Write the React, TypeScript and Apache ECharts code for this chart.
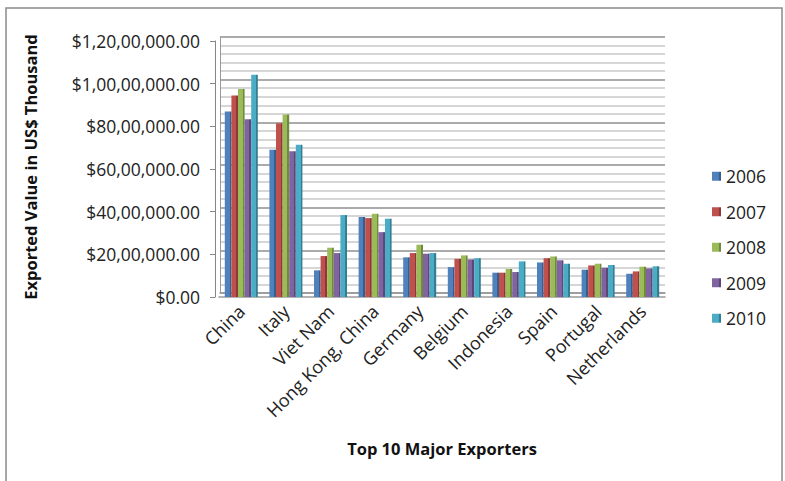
import React, { useEffect, useRef } from "react";
import * as echarts from "echarts";

const categories = ["China", "Italy", "Viet Nam", "Hong Kong, China", "Germany", "Belgium", "Indonesia", "Spain", "Portugal", "Netherlands"];
const years = ["2006", "2007", "2008", "2009", "2010"];
const v2006 = [8700000, 6900000, 1250000, 3750000, 1860000, 1400000, 1140000, 1620000, 1280000, 1090000];
const v2007 = [9450000, 8150000, 1920000, 3700000, 2060000, 1790000, 1140000, 1820000, 1480000, 1200000];
const v2008 = [9750000, 8560000, 2310000, 3900000, 2450000, 1950000, 1310000, 1900000, 1560000, 1420000];
const v2009 = [8330000, 6830000, 2060000, 3040000, 2030000, 1760000, 1170000, 1720000, 1370000, 1340000];
const v2010 = [10420000, 7140000, 3840000, 3670000, 2060000, 1820000, 1670000, 1560000, 1500000, 1440000];
const seriesValues = [v2006, v2007, v2008, v2009, v2010];
const colors = ["#4F81BD", "#C0504D", "#9BBB59", "#8064A2", "#4BACC6"];
const sideColors = ["#385D8A", "#8C3836", "#71893F", "#5C4776", "#357D91"];

const FONT = "'Open Sans', 'Noto Sans', sans-serif";

function indian(n: number): string {
  const s = String(Math.round(n));
  if (s.length <= 3) return s;
  const last3 = s.slice(-3);
  let rest = s.slice(0, -3);
  const parts: string[] = [];
  while (rest.length > 2) {
    parts.unshift(rest.slice(-2));
    rest = rest.slice(0, -2);
  }
  if (rest.length) parts.unshift(rest);
  return parts.join(",") + "," + last3;
}

export default function App() {
  const ref = useRef<HTMLDivElement>(null);
  useEffect(() => {
    if (!ref.current) return;
    const chart = echarts.init(ref.current, null, { renderer: "svg" });
    const option: any = {
      animation: false,
      backgroundColor: "#ffffff",
      color: colors,
      textStyle: { fontFamily: FONT },
      grid: [
        { left: 220, right: 120, top: 37, bottom: 188 },
        { left: 219, right: 120, top: 41, bottom: 184 },
      ],
      legend: {
        orient: "vertical",
        left: 707,
        top: 162,
        itemWidth: 9,
        itemHeight: 9,
        itemGap: 17,
        icon: "rect",
        data: years,
        textStyle: { fontSize: 17.5, lineHeight: 18.5, color: "#222", fontFamily: FONT },
      },
      xAxis: [
        {
          gridIndex: 0,
          type: "category",
          data: categories,
          axisLine: { show: true, lineStyle: { color: "#9a9a9a", width: 1.5 } },
          axisTick: { show: false },
          axisLabel: { show: false },
        },
        {
          gridIndex: 1,
          type: "category",
          data: categories,
          axisLine: { show: true, lineStyle: { color: "#9a9a9a", width: 1.5 } },
          axisTick: { show: false },
          axisLabel: {
            rotate: 45,
            fontSize: 18,
            color: "#222",
            margin: 11,
            interval: 0,
            fontFamily: FONT,
          },
          name: "Top 10 Major Exporters",
          nameLocation: "middle",
          nameGap: 143,
          nameTextStyle: { fontSize: 16.5, fontWeight: "bold", color: "#111", fontFamily: FONT },
        },
      ],
      yAxis: [
        {
          gridIndex: 0,
          type: "value",
          min: 0,
          max: 12000000,
          interval: 2000000,
          axisLine: { show: true, lineStyle: { color: "#9a9a9a" } },
          axisTick: { show: false },
          axisLabel: { show: false },
          splitLine: { show: true, lineStyle: { color: "#8f8f8f", width: 1.5 } },
          minorTick: { show: false, splitNumber: 5 },
          minorSplitLine: { show: true, lineStyle: { color: "#c9c9c9", width: 1.5 } },
        },
        {
          gridIndex: 1,
          type: "value",
          min: 0,
          max: 12000000,
          interval: 2000000,
          offset: 4,
          axisLine: { show: true, lineStyle: { color: "#868686" } },
          axisTick: { show: true, length: 5, lineStyle: { color: "#868686" } },
          splitLine: { show: false },
          axisLabel: {
            fontSize: 17.5,
            color: "#222",
            margin: 15,
            fontFamily: FONT,
            formatter: (v: number) => (v === 0 ? "$0.00" : "$" + indian(v) + ".00"),
          },
        },
      ],
      graphic: [
        {
          type: "rect",
          shape: { x: 6, y: 8, width: 776, height: 520 },
          style: { fill: "none", stroke: "#8a8a8a", lineWidth: 1.5 },
          silent: true,
        },
        {
          type: "text",
          x: 30,
          y: 167,
          rotation: Math.PI / 2,
          style: {
            text: "Exported Value in US$ Thousand",
            font: "bold 16.5px " + FONT,
            fill: "#111",
            align: "center",
            verticalAlign: "middle",
          },
        },
      ],
      series: years.map((y, i) => ({
        name: y,
        type: "bar",
        xAxisIndex: 1,
        yAxisIndex: 1,
        data: seriesValues[i],
        barGap: "0%",
        barCategoryGap: "26%",
        itemStyle: {
          color: new echarts.graphic.LinearGradient(0, 0, 1, 0, [
            { offset: 0, color: colors[i] },
            { offset: 0.72, color: colors[i] },
            { offset: 0.74, color: sideColors[i] },
            { offset: 1, color: sideColors[i] },
          ]),
        },
      })),
    };
    chart.setOption(option);
    return () => chart.dispose();
  }, []);
  return (
    <div
      ref={ref}
      style={{ position: "fixed", left: 0, top: 0, width: 785, height: 481, background: "#fff" }}
    />
  );
}
